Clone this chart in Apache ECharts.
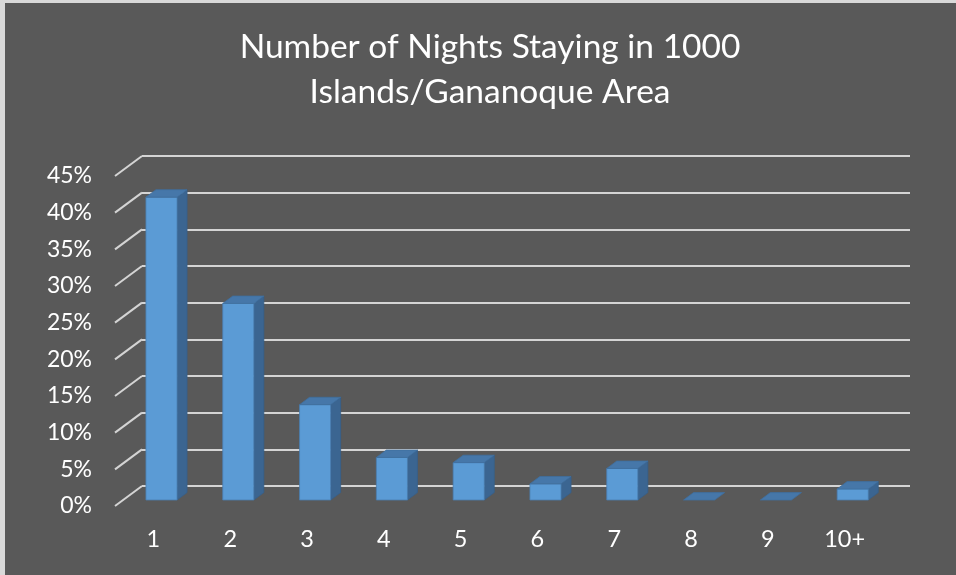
<!DOCTYPE html>
<html>
<head>
<meta charset="utf-8">
<script src="https://cdn.jsdelivr.net/npm/echarts@6/dist/echarts.min.js"></script>
<style>
  html, body { margin: 0; padding: 0; background: #ffffff; }
  #chart { width: 956px; height: 575px; }
</style>
</head>
<body>
<div id="chart"></div>
<script>
// ---- data ----
const titleLines = ['Number of Nights Staying in 1000', 'Islands/Gananoque Area'];
const categories = ['1', '2', '3', '4', '5', '6', '7', '8', '9', '10+'];
const shares = [0.413, 0.268, 0.130, 0.058, 0.051, 0.022, 0.043, 0, 0, 0.015];
const yTickValues = [0, 0.05, 0.10, 0.15, 0.20, 0.25, 0.30, 0.35, 0.40, 0.45];

// ---- styling constants (perspective depth of the floor) ----
const DX = 27, DY = -20;
const FONT = 'Lato, "Open Sans", sans-serif';
const GRID_COLOR = '#d4d4d4';

const chart = echarts.init(document.getElementById('chart'), null, { renderer: 'canvas' });

function renderDiagonal(params, api) {
  const v = api.value(1);
  const p = api.coord([0, v]);
  const x0 = params.coordSys.x;
  return {
    type: 'line',
    shape: { x1: x0, y1: p[1], x2: x0 + DX, y2: p[1] + DY },
    style: { stroke: GRID_COLOR, lineWidth: 2 }
  };
}

function renderBar(params, api) {
  const i = api.value(0), v = api.value(1);
  const base = api.coord([i, 0]);
  const top = api.coord([i, v]);
  const band = api.size([1, 0])[0];
  const w = band * 0.405;
  const ox = DX * 0.3, oy = DY * 0.3;
  const dx = DX * 0.37, dy = DY * 0.37;
  const xl = base[0] + ox - w / 2, xr = xl + w;
  const yb = base[1] + oy, yt = top[1] + oy;
  const edge = '#4a7db0';
  const children = [];
  if (yb - yt > 0.5) {
    children.push({
      type: 'polygon',
      shape: { points: [[xr, yt], [xr + dx, yt + dy], [xr + dx, yb + dy], [xr, yb]] },
      style: { fill: '#3b6591', stroke: '#36608a', lineWidth: 0.8 }
    });
    children.push({
      type: 'rect',
      shape: { x: xl, y: yt, width: w, height: yb - yt },
      style: { fill: '#5b9bd5', stroke: edge, lineWidth: 0.8 }
    });
  }
  children.push({
    type: 'polygon',
    shape: { points: [[xl, yt], [xr, yt], [xr + dx, yt + dy], [xl + dx, yt + dy]] },
    style: { fill: '#4677a9', stroke: '#3f6e9e', lineWidth: 0.8 }
  });
  return { type: 'group', children };
}

const option = {
  backgroundColor: '#595959',
  animation: false,
  graphic: [
    { type: 'rect', shape: { x: 0, y: 0, width: 956, height: 3 }, style: { fill: '#d9d9d9' }, z: 100 },
    { type: 'rect', shape: { x: 0, y: 0, width: 5, height: 575 }, style: { fill: '#d9d9d9' }, z: 100 }
  ],
  title: {
    text: titleLines.join('\n'),
    left: 485,
    top: 20,
    textAlign: 'center',
    textStyle: {
      color: '#ffffff',
      fontFamily: FONT,
      fontWeight: 'normal',
      fontSize: 33.5,
      lineHeight: 45
    }
  },
  grid: [
    { left: 115, top: 176, width: 768, height: 330 },
    { left: 142, top: 156, width: 768, height: 330 }
  ],
  xAxis: [
    {
      gridIndex: 0,
      type: 'category',
      data: categories,
      axisLine: { show: false },
      axisTick: { show: false },
      splitLine: { show: false },
      axisLabel: { color: '#ffffff', fontFamily: FONT, fontSize: 23.5, margin: 21 }
    },
    { gridIndex: 1, type: 'value', show: false, min: 0, max: 1 }
  ],
  yAxis: [
    {
      gridIndex: 0,
      type: 'value',
      min: 0, max: 0.45, interval: 0.05,
      axisLine: { show: false },
      axisTick: { show: false },
      splitLine: { show: false },
      axisLabel: {
        color: '#ffffff', fontFamily: FONT, fontSize: 23, margin: 23,
        formatter: v => Math.round(v * 100) + '%'
      }
    },
    {
      gridIndex: 1,
      type: 'value',
      min: 0, max: 0.45, interval: 0.05,
      axisLine: { show: false },
      axisTick: { show: false },
      axisLabel: { show: false },
      splitLine: { show: true, lineStyle: { color: GRID_COLOR, width: 2 } }
    }
  ],
  series: [
    {
      type: 'custom',
      xAxisIndex: 0, yAxisIndex: 0,
      renderItem: renderDiagonal,
      data: yTickValues.map(v => [0, v]),
      encode: { x: 0, y: 1 },
      silent: true,
      z: 1
    },
    {
      type: 'custom',
      xAxisIndex: 0, yAxisIndex: 0,
      renderItem: renderBar,
      data: shares.map((v, i) => [i, v]),
      encode: { x: 0, y: 1 },
      z: 5
    }
  ]
};

chart.setOption(option);
</script>
</body>
</html>
